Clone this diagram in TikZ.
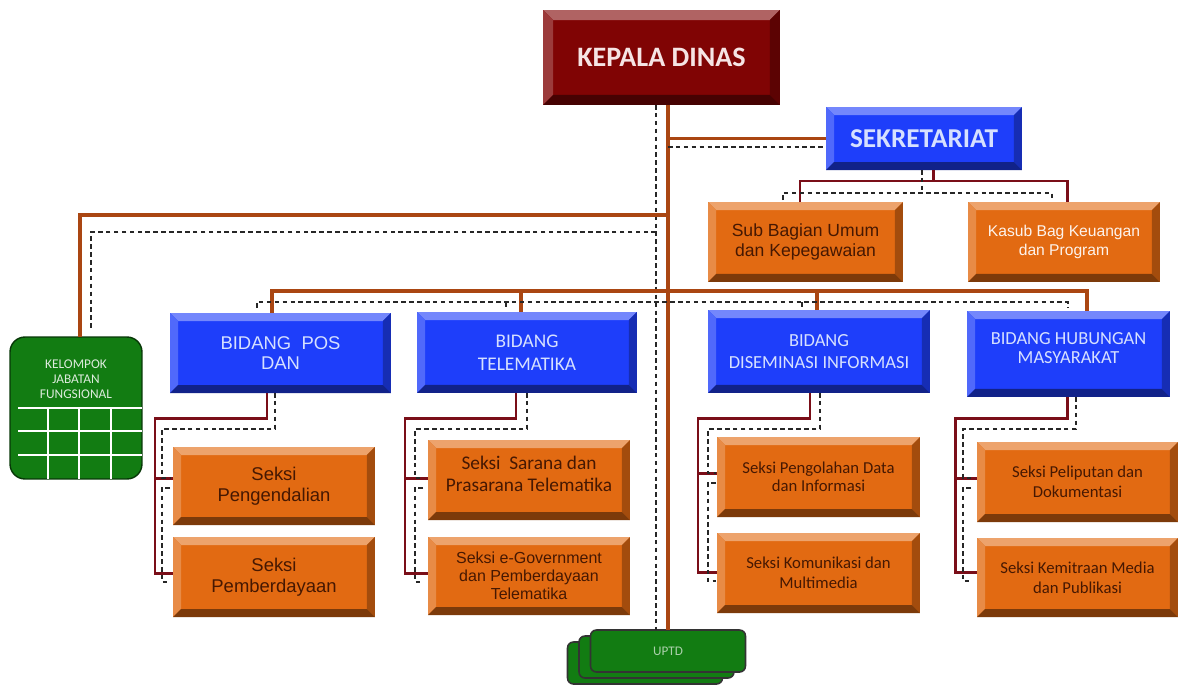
\documentclass[tikz,border=0pt]{standalone}
\usepackage{fontspec}
\newfontfamily\calf{Carlito}
\newfontfamily\arif{Liberation Sans}
\usetikzlibrary{calc}
\definecolor{kred}{RGB}{128,4,4}
\definecolor{kblue}{RGB}{30,62,250}
\definecolor{korg}{RGB}{226,106,18}
\definecolor{kgreen}{RGB}{18,124,18}
\definecolor{trunkc}{RGB}{170,70,18}
\definecolor{dredc}{RGB}{122,14,24}
\definecolor{dtext}{RGB}{70,24,2}
\definecolor{ktext}{RGB}{246,228,228}
\definecolor{blight}{RGB}{214,224,255}
\newcommand\bevelbox[3][8]{%
  \fill[#3!62!white] (#2.north west) -- (#2.north east) -- ($(#2.north east)+(-#1,#1)$) -- ($(#2.north west)+(#1,#1)$) -- cycle;
  \fill[#3!78!white] (#2.north west) -- ($(#2.north west)+(#1,#1)$) -- ($(#2.south west)+(#1,-#1)$) -- (#2.south west) -- cycle;
  \fill[#3!72!black] (#2.north east) -- (#2.south east) -- ($(#2.south east)+(-#1,-#1)$) -- ($(#2.north east)+(-#1,#1)$) -- cycle;
  \fill[#3!55!black] (#2.south west) -- (#2.south east) -- ($(#2.south east)+(-#1,-#1)$) -- ($(#2.south west)+(#1,-#1)$) -- cycle;
}
\newcommand\sgroup[9]{%
  \draw[dred] (#1.south -| #4,0) -- (#4,418) -- (#6,418) -- (#6,#9) -- (#3.west |- 0,#9);
  \draw[dred] (#6,#8) -- (#2.west |- 0,#8);
  \draw[dsh] (#1.south -| #5,0) -- (#5,429) -- (#7,429) -- (#7,#8) -- ++(8,0);
  \draw[dsh] ($(#7,#8)+(8,10)$) -- ++(-8,0) -- (#7,#9+9) -- ++(8,0);
}
\begin{document}
\begin{tikzpicture}[x=0.02cm,y=-0.02cm,
  kbox/.style={fill=kred, inner sep=2pt, outer sep=0pt, align=center, text=ktext},
  bbox/.style={fill=kblue, inner sep=2pt, outer sep=0pt, align=center, text=blight},
  obox/.style={fill=korg, inner sep=2pt, outer sep=0pt, align=center, text=dtext},
  gbox/.style={fill=kgreen, draw=kgreen!45!black, line width=0.8pt, rounded corners=0.3cm, outer sep=0pt},
  ubox/.style={fill=kgreen, draw=black!80, line width=0.9pt, rounded corners=0.12cm, outer sep=0pt,
               minimum width=3.1cm, minimum height=0.84cm, inner sep=0pt},
  trunk/.style={draw=trunkc, line width=2.2pt},
  dred/.style={draw=dredc, line width=1.7pt},
  dsh/.style={draw=black!85, line width=0.7pt, dash pattern=on 2.6pt off 1.9pt}]
\useasboundingbox (0,0) rectangle (1181,684);
\fill[white] (0,0) rectangle (1181,684);

% ---- nodes
\node[kbox, minimum width=4.74cm, minimum height=1.9cm, font=\calf\bfseries\fontsize{16}{18}\selectfont] (kepala) at (661.5,57.5) {KEPALA DINAS};
\node[bbox, minimum width=3.92cm, minimum height=1.26cm, font=\calf\bfseries\fontsize{15.5}{18}\selectfont] (sekre) at (924,138.5) {SEKRETARIAT};
\node[obox, minimum width=3.9cm, minimum height=1.6cm, font=\arif\fontsize{10}{11.3}\selectfont] (subum) at (805.5,242) {Sub Bagian Umum\\dan Kepegawaian};
\node[obox, text=white!92!korg, minimum width=3.84cm, minimum height=1.6cm, font=\arif\fontsize{8.9}{11.3}\selectfont] (keu) at (1064,242) {Kasub Bag Keuangan\\dan Program};

\node[gbox, minimum width=2.64cm, minimum height=2.84cm] (jab) at (76,408) {};
\node[align=center, text=white!85!kgreen, font=\calf\fontsize{7.6}{8.6}\selectfont] (jabtxt) at (76,379) {KELOMPOK\\JABATAN\\FUNGSIONAL};

\node[bbox, minimum width=4.42cm, minimum height=1.6cm, font=\arif\fontsize{10.5}{11.5}\selectfont] (pos) at (280.5,353) {BIDANG \ POS\\DAN};
\node[bbox, minimum width=4.4cm, minimum height=1.62cm, font=\calf\fontsize{11}{13}\selectfont] (tel) at (527,352.5) {BIDANG\\TELEMATIKA};
\node[bbox, minimum width=4.44cm, minimum height=1.66cm, font=\calf\fontsize{10.5}{12.5}\selectfont] (dis) at (819,351.5) {BIDANG\\DISEMINASI INFORMASI};
\node[bbox, minimum width=4.06cm, minimum height=1.72cm, font=\calf\fontsize{10.5}{10.5}\selectfont] (hum) at (1068.5,354) {BIDANG HUBUNGAN\\MASYARAKAT\\[-3.7pt]};

\node[obox, minimum width=4.04cm, minimum height=1.56cm, font=\arif\fontsize{10.5}{12}\selectfont] (s1) at (274,486) {Seksi\\Pengendalian};
\node[obox, minimum width=4.04cm, minimum height=1.6cm, font=\arif\fontsize{10.5}{12}\selectfont] (s2) at (274,577) {Seksi\\Pemberdayaan};
\node[obox, minimum width=4.04cm, minimum height=1.6cm, font=\calf\fontsize{11}{13}\selectfont] (s3) at (529,480) {Seksi \ Sarana dan\\Prasarana Telematika\\[-6pt]};
\node[obox, minimum width=4.04cm, minimum height=1.56cm, font=\arif\fontsize{9.1}{10.2}\selectfont] (s4) at (529,576) {Seksi e-Government\\dan Pemberdayaan\\Telematika};
\node[obox, minimum width=4.06cm, minimum height=1.6cm, font=\calf\fontsize{9.5}{10.5}\selectfont] (s5) at (818.5,477) {Seksi Pengolahan Data\\dan Informasi};
\node[obox, minimum width=4.06cm, minimum height=1.6cm, font=\calf\fontsize{9.5}{11.3}\selectfont] (s6) at (818.5,573) {Seksi Komunikasi dan\\Multimedia};
\node[obox, minimum width=4.02cm, minimum height=1.6cm, font=\calf\fontsize{9.5}{11.3}\selectfont] (s7) at (1077.5,482) {Seksi Peliputan dan\\Dokumentasi};
\node[obox, minimum width=4.02cm, minimum height=1.58cm, font=\calf\fontsize{9.5}{11.3}\selectfont] (s8) at (1077.5,577.5) {Seksi Kemitraan Media\\dan Publikasi};

\node[ubox] (uptdc) at (645,663) {};
\node[ubox] (uptdb) at (656.5,657) {};
\node[ubox, text=kgreen!35!white, font=\calf\fontsize{7.5}{9}\selectfont] (uptd) at (668,651) {UPTD};

% ---- bevels
\bevelbox[10]{kepala}{kred}
\foreach \n in {sekre,pos,tel,dis,hum} {\bevelbox{\n}{kblue}}
\foreach \n in {subum,keu,s1,s2,s3,s4,s5,s6,s7,s8} {\bevelbox{\n}{korg}}

% ---- grid of jabatan fungsional
\foreach \yy in {408,431,455} {\draw[white, line width=1.2pt] (18,\yy) -- (142,\yy);}
\foreach \xx in {48,79,111} {\draw[white, line width=1.2pt] (\xx,408) -- (\xx,478.5);}

% ---- trunk
\draw[trunk] (kepala.south -| uptd.north) -- (uptd.north);
\draw[dsh] (kepala.south -| 656,0) -- (uptd.north -| 656,0);
% sekretariat
\draw[trunk] (sekre.west -| uptd.north) -- (sekre.west);
\draw[dsh] (668,147) -- (sekre.west |- 0,147);
% sekretariat children
\draw[dred] (sekre.south -| 933,0) -- (933,181);
\draw[dred] (subum.north -| 800,0) -- (800,181) -- (1067,181) -- (keu.north -| 1067,0);
\draw[dsh] (sekre.south -| 922,0) -- (922,193);
\draw[dsh] (783,200) -- (783,193) -- (1052,193) -- (1052,200);
% jabatan fungsional
\coordinate (jj) at (668,215);
\coordinate (jd) at (656,232);
\draw[trunk] (jj) -| ($(jab.north)+(4,0)$);
\draw[dsh] (jd) -| ($(jab.north)+(15,-7)$);
% bidang bar
\draw[trunk] (pos.north -| 272,0) -- (272,291) -- (1087,291) -- (hum.north -| 1087,0);
\draw[trunk] (tel.north -| 521,0) -- (521,291);
\draw[trunk] (dis.north -| 817,0) -- (817,291);
\draw[dsh] (257,308) -- (257,302) -- (1068,302) -- (1068,308);
\draw[dsh] (506,302) -- (506,308);
\draw[dsh] (802,302) -- (802,308);
% seksi groups
\sgroup{pos}{s1}{s2}{267}{275}{155}{162}{478}{573}
\sgroup{tel}{s3}{s4}{516}{527}{405}{415}{478}{573}
\sgroup{dis}{s5}{s6}{810}{820}{698}{708}{473}{572}
\sgroup{hum}{s7}{s8}{1067}{1076}{955}{963}{478}{572}
\end{tikzpicture}
\end{document}
